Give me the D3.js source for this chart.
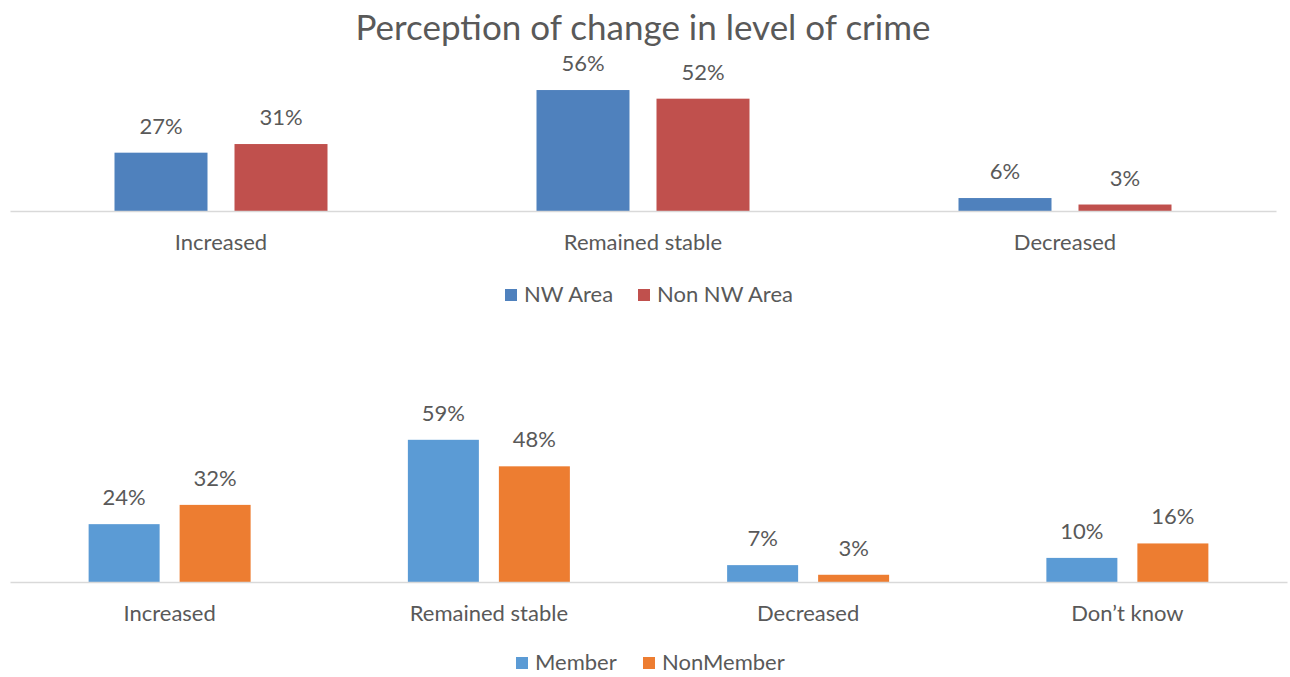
<!DOCTYPE html>
<html><head><meta charset="utf-8">
<script src="https://cdn.jsdelivr.net/npm/d3@7"></script>
<style>
body{margin:0;background:#fff;}
svg text{font-family:Lato, "Open Sans", sans-serif;fill:#595959;}
</style></head>
<body>
<svg id="c" width="1290" height="677"></svg>
<script>
const title = "Perception of change in level of crime";
const cats1 = ["Increased","Remained stable","Decreased"];
const series1 = ["NW Area","Non NW Area"];
const nwArea = [27,56,6];
const nonNwArea = [31,52,3];
const colors1 = ["#4F81BD","#C0504D"];

const cats2 = ["Increased","Remained stable","Decreased","Don\u2019t know"];
const series2 = ["Member","NonMember"];
const member = [24,59,7,10];
const nonMember = [32,48,3,16];
const colors2 = ["#5B9BD5","#ED7D31"];

const svg = d3.select("#c");
svg.append("text").attr("x",643).attr("y",40).attr("text-anchor","middle")
  .style("font-size","35px").text(title);

function panel(cfg){
  const g = svg.append("g");
  const x = d3.scaleBand().domain(cfg.cats).range(cfg.xr);
  const y = d3.scaleLinear().domain([0,100]).range([cfg.base, cfg.base - 100*cfg.ppu]);
  const data = [cfg.a, cfg.b];
  cfg.cats.forEach((c,i)=>{
    const cx = x(c) + x.bandwidth()/2;
    data.forEach((arr,s)=>{
      const bx = s===0 ? cx - cfg.gap/2 - cfg.bw : cx + cfg.gap/2;
      g.append("rect").attr("x",bx).attr("y",y(arr[i])).attr("width",cfg.bw)
        .attr("height",y(0)-y(arr[i])).attr("fill",cfg.colors[s]);
      g.append("text").attr("x",bx+cfg.bw/2).attr("y",y(arr[i])-cfg.lblOff)
        .attr("text-anchor","middle").style("font-size","22px").text(arr[i]+"%");
    });
  });
  const ax = d3.axisBottom(x).tickSize(0).tickPadding(cfg.tickPad);
  const axg = g.append("g").attr("transform",`translate(0,${cfg.base})`).call(ax);
  axg.select(".domain").attr("stroke","#D9D9D9").attr("stroke-width",1.5);
  axg.selectAll("text").style("font-size","22px").style("fill","#595959").style("font-family","Lato, sans-serif");
  const lg = g.append("g");
  cfg.series.forEach((s,i)=>{
    lg.append("rect").attr("x",cfg.legX[i]).attr("y",cfg.legY-6).attr("width",12).attr("height",12).attr("fill",cfg.colors[i]);
    lg.append("text").attr("x",cfg.legX[i]+19).attr("y",cfg.legY+7).style("font-size","22px").text(s);
  });
}

panel({cats:cats1, series:series1, a:nwArea, b:nonNwArea, colors:colors1,
  xr:[10,1276], base:211, ppu:2.16, bw:93, gap:27, lblOff:19, tickPad:23,
  legX:[505,638], legY:295});
panel({cats:cats2, series:series2, a:member, b:nonMember, colors:colors2,
  xr:[10,1287], base:582, ppu:2.41, bw:71, gap:20, lblOff:19, tickPad:23,
  legX:[516,643], legY:663});
</script>
</body></html>
